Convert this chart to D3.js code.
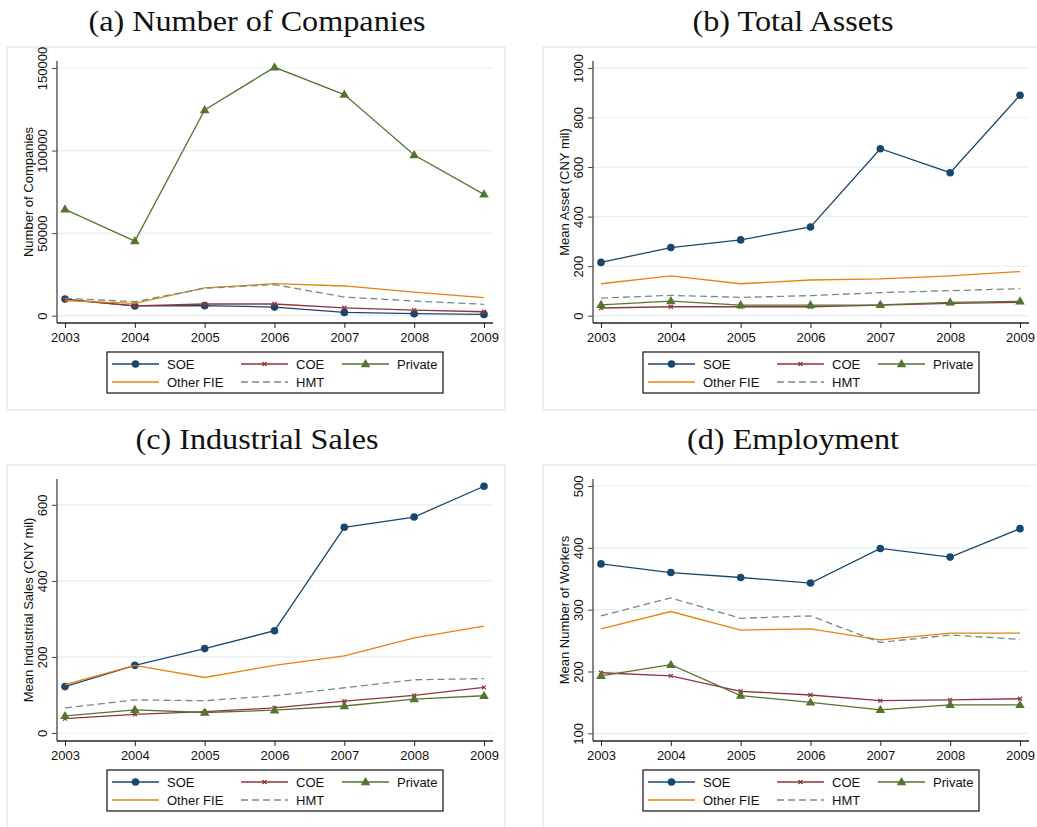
<!DOCTYPE html>
<html>
<head>
<meta charset="utf-8">
<script src="https://cdn.jsdelivr.net/npm/d3@7"></script>
<style>
  html, body { margin: 0; padding: 0; background: #fff; }
  svg { display: block; }
  text { font-family: "Liberation Sans", Arial, sans-serif; }
</style>
</head>
<body>
<svg id="chart" width="1037" height="827"></svg>
<script>
// ---------- Data ----------
const years = [2003, 2004, 2005, 2006, 2007, 2008, 2009];
const seriesNames = ["SOE", "COE", "Private", "Other FIE", "HMT"];

// (a) Number of Companies
const companiesSOE     = [10100, 5900, 6100, 5200, 2000, 1200, 800];
const companiesCOE     = [9700, 6000, 7100, 7100, 4800, 3400, 2400];
const companiesPrivate = [64400, 45200, 124600, 150400, 133900, 97300, 73500];
const companiesOtherFIE= [9100, 7500, 16800, 19400, 18000, 14300, 10900];
const companiesHMT     = [10500, 8500, 16600, 18800, 11300, 8900, 6900];
const companiesTicks   = [0, 50000, 100000, 150000];

// (b) Total Assets (mean, CNY mil)
const assetsSOE      = [215, 275, 306, 358, 674, 577, 890];
const assetsCOE      = [31, 36, 36, 36, 43, 50, 54];
const assetsPrivate  = [44, 59, 43, 43, 44, 54, 58];
const assetsOtherFIE = [129, 161, 129, 144, 149, 161, 178];
const assetsHMT      = [71, 82, 74, 81, 93, 101, 109];
const assetsTicks    = [0, 200, 400, 600, 800, 1000];

// (c) Industrial Sales (mean, CNY mil)
const salesSOE      = [122, 178, 222, 269, 541, 568, 649];
const salesCOE      = [38, 49, 56, 66, 84, 99, 120];
const salesPrivate  = [45, 61, 54, 60, 71, 89, 98];
const salesOtherFIE = [127, 178, 146, 178, 203, 250, 281];
const salesHMT      = [66, 87, 85, 98, 119, 140, 143];
const salesTicks    = [0, 200, 400, 600];

// (d) Employment (mean number of workers)
const workersSOE      = [374, 360, 352, 343, 399, 385, 431];
const workersCOE      = [198, 193, 168, 162, 153, 154, 156];
const workersPrivate  = [193, 211, 161, 150, 138, 146, 146];
const workersOtherFIE = [269, 297, 267, 269, 251, 262, 262];
const workersHMT      = [290, 319, 286, 290, 247, 259, 252];
const workersTicks    = [100, 200, 300, 400, 500];

const panelTitles = ["(a) Number of Companies", "(b) Total Assets", "(c) Industrial Sales", "(d) Employment"];
const axisTitles  = ["Number of Companies", "Mean Asset (CNY mil)", "Mean Industrial Sales (CNY mil)", "Mean Number of Workers"];

// ---------- Styles ----------
const styles = {
  "SOE":       { color: "#1a476f", marker: "circle", dash: null },
  "COE":       { color: "#90353b", marker: "x", dash: null },
  "Private":   { color: "#55752f", marker: "triangle", dash: null },
  "Other FIE": { color: "#e8820c", marker: null, dash: null },
  "HMT":       { color: "#6e8e84", marker: null, dash: "7,4" }
};

const panels = [
  { ox: 0,   oy: 0,   domain: [-4420, 154240], ticks: companiesTicks,
    data: [companiesSOE, companiesCOE, companiesPrivate, companiesOtherFIE, companiesHMT] },
  { ox: 536, oy: 0,   domain: [-29.5, 1028], ticks: assetsTicks,
    data: [assetsSOE, assetsCOE, assetsPrivate, assetsOtherFIE, assetsHMT] },
  { ox: 0,   oy: 418, domain: [-21, 668], ticks: salesTicks,
    data: [salesSOE, salesCOE, salesPrivate, salesOtherFIE, salesHMT] },
  { ox: 536, oy: 418, domain: [87.6, 511.3], ticks: workersTicks,
    data: [workersSOE, workersCOE, workersPrivate, workersOtherFIE, workersHMT] }
];

const svg = d3.select("#chart");

function drawMarker(g, type, x, y, color) {
  if (type === "circle") {
    g.append("circle").attr("cx", x).attr("cy", y).attr("r", 3.8).attr("fill", color);
  } else if (type === "triangle") {
    g.append("path").attr("d", `M${x},${y-5}L${x+4.8},${y+3.2}L${x-4.8},${y+3.2}Z`).attr("fill", color);
  } else if (type === "x") {
    g.append("path").attr("d", `M${x-2},${y-2}L${x+2},${y+2}M${x-2},${y+2}L${x+2},${y-2}`)
      .attr("stroke", color).attr("stroke-width", 1.2).attr("fill", "none");
  }
}

panels.forEach((p, i) => {
  const g = svg.append("g").attr("transform", `translate(${p.ox},${p.oy})`);

  // outer panel frame
  g.append("rect").attr("x", 7).attr("y", 47).attr("width", 498).attr("height", i < 2 ? 363 : 420)
    .attr("fill", "none").attr("stroke", "#e4ecee").attr("stroke-width", 1.5);

  // title (stretched to mimic the wider Computer Modern face)
  const t = g.append("text").attr("x", 257).attr("y", 31).attr("text-anchor", "middle")
    .style("font-family", "'Liberation Serif', 'DejaVu Serif', serif").style("font-size", "29px")
    .attr("fill", "#111").text(panelTitles[i]);
  const natural = t.node().getComputedTextLength();
  t.attr("textLength", natural * 1.11).attr("lengthAdjust", "spacingAndGlyphs");

  const axL = 57, axR = 493, axT = 61, axB = 323;
  const x = d3.scalePoint().domain(years).range([65, 484]);
  const y = d3.scaleLinear().domain(p.domain).range([axB, axT]);

  // gridlines
  g.append("g").selectAll("line").data(p.ticks).join("line")
    .attr("x1", axL).attr("x2", axR).attr("y1", d => y(d)).attr("y2", d => y(d))
    .attr("stroke", "#e8f0f2").attr("stroke-width", 1.2);

  // y axis
  const yAxis = g.append("g").attr("transform", `translate(${axL},0)`)
    .call(d3.axisLeft(y).tickValues(p.ticks).tickSize(5).tickPadding(0).tickFormat(d3.format("d")));
  yAxis.select(".domain").attr("d", `M0,${axT}V${axB}`).attr("stroke", "#444").attr("stroke-width", 1.3);
  yAxis.selectAll(".tick line").attr("stroke", "#444");
  yAxis.selectAll(".tick text")
    .attr("x", null).attr("dy", null)
    .attr("transform", "translate(-10,0) rotate(-90)")
    .attr("text-anchor", "middle")
    .style("font-size", "13px").attr("fill", "#111");

  // x axis
  const xAxis = g.append("g").attr("transform", `translate(0,${axB})`)
    .call(d3.axisBottom(x).tickSize(5).tickPadding(0));
  xAxis.select(".domain").attr("d", `M${axL},0H${axR}`).attr("stroke", "#222").attr("stroke-width", 1.3);
  xAxis.selectAll(".tick line").attr("stroke", "#222");
  xAxis.selectAll(".tick text").attr("dy", null).attr("y", 19)
    .style("font-size", "13px").attr("fill", "#111");

  // axis title
  g.append("text").attr("transform", `translate(33,${(axT + axB) / 2}) rotate(-90)`)
    .attr("text-anchor", "middle").style("font-size", "13px").attr("fill", "#111").text(axisTitles[i]);

  // series
  const line = d3.line().x((d, j) => x(years[j])).y(d => y(d));
  seriesNames.forEach((name, k) => {
    const st = styles[name];
    const vals = p.data[k];
    g.append("path").datum(vals).attr("d", line).attr("fill", "none")
      .attr("stroke", st.color).attr("stroke-width", 1.3)
      .attr("stroke-dasharray", st.dash);
    if (st.marker) {
      const mg = g.append("g");
      vals.forEach((v, j) => drawMarker(mg, st.marker, x(years[j]), y(v), st.color));
    }
  });

  // legend
  const lg = g.append("g");
  lg.append("rect").attr("x", 107).attr("y", 352).attr("width", 336).attr("height", 41)
    .attr("fill", "#fff").attr("stroke", "#111").attr("stroke-width", 1.2);
  const cols = [112, 241, 342];
  const rows = [364, 382];
  seriesNames.forEach((name, k) => {
    const st = styles[name];
    const cx = cols[k % 3], cy = rows[Math.floor(k / 3)];
    lg.append("line").attr("x1", cx).attr("x2", cx + 47).attr("y1", cy).attr("y2", cy)
      .attr("stroke", st.color).attr("stroke-width", 1.3).attr("stroke-dasharray", st.dash);
    if (st.marker) drawMarker(lg, st.marker, cx + 23.5, cy, st.color);
    lg.append("text").attr("x", cx + 55).attr("y", cy + 4.8)
      .style("font-size", "13px").attr("fill", "#111").text(name);
  });
});
</script>
</body>
</html>
